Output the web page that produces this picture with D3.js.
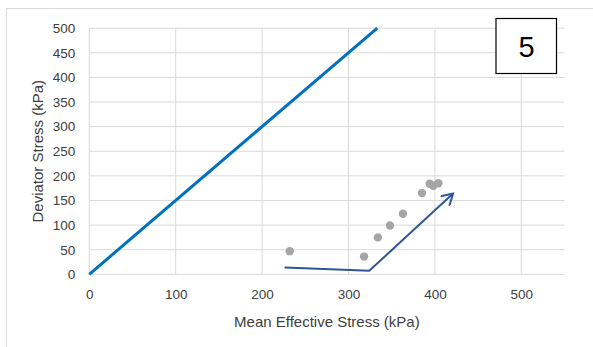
<!DOCTYPE html>
<html><head><meta charset="utf-8">
<script src="https://cdn.jsdelivr.net/npm/d3@7"></script>
<style>body{margin:0;background:#fff;} svg{display:block;}</style>
</head><body>
<svg id="chart" width="593" height="347"></svg>
<script>
// Data
const xTicks = [0, 100, 200, 300, 400, 500];
const yTicks = [0, 50, 100, 150, 200, 250, 300, 350, 400, 450, 500];
const lineP = [0, 333.3];          // CSL: q = 1.5 p'
const lineQ = [0, 500];
const pointsP = [232, 318, 334, 348, 363, 385, 394, 398, 404];
const pointsQ = [47, 36, 75, 99, 123, 165, 184, 180, 185];
const arrowP = [226, 324, 421];
const arrowQ = [14, 7, 164];
const panelLabel = "5";
const xTitle = "Mean Effective Stress (kPa)";
const yTitle = "Deviator Stress (kPa)";

const svg = d3.select("#chart");
const font = "'Liberation Sans', Arial, sans-serif";
const x = d3.scaleLinear().domain([0, 550]).range([89.3, 564.5]);
const y = d3.scaleLinear().domain([0, 500]).range([274.3, 28.2]);

// outer chart border
svg.append("path").attr("d", "M6.5,347 V8.5 H593").attr("fill", "none").attr("stroke", "#D9D9D9").attr("stroke-width", 1);

// gridlines
svg.append("g").selectAll("line").data(yTicks).join("line")
  .attr("x1", x(0)).attr("x2", x(550)).attr("y1", d => y(d)).attr("y2", d => y(d))
  .attr("stroke", "#D9D9D9").attr("stroke-width", 1);
svg.append("g").selectAll("line").data(xTicks).join("line")
  .attr("y1", y(0)).attr("y2", y(500)).attr("x1", d => x(d)).attr("x2", d => x(d))
  .attr("stroke", "#D9D9D9").attr("stroke-width", 1);

// axes labels via d3 axes
const xAxis = svg.append("g").attr("transform", `translate(0,${y(0)})`)
  .call(d3.axisBottom(x).tickValues(xTicks).tickSize(0).tickPadding(15));
const yAxis = svg.append("g").attr("transform", `translate(${x(0)},0)`)
  .call(d3.axisLeft(y).tickValues(yTicks).tickSize(0).tickPadding(14));
[xAxis, yAxis].forEach(a => {
  a.select(".domain").remove();
  a.selectAll("text").attr("fill", "#404040").style("font-family", font).style("font-size", "13.5px");
});

// titles
svg.append("text").attr("x", (x(0) + x(550)) / 2).attr("y", 327).attr("text-anchor", "middle")
  .attr("fill", "#404040").style("font-family", font).style("font-size", "15px").text(xTitle);
svg.append("text").attr("transform", `translate(43,${(y(0) + y(500)) / 2}) rotate(-90)`).attr("text-anchor", "middle")
  .attr("fill", "#404040").style("font-family", font).style("font-size", "15px").text(yTitle);

// CSL line
svg.append("path").datum(lineP.map((p, i) => [p, lineQ[i]]))
  .attr("d", d3.line().x(d => x(d[0])).y(d => y(d[1])))
  .attr("fill", "none").attr("stroke", "#0070C0").attr("stroke-width", 3);

// points
svg.append("g").selectAll("circle").data(pointsP.map((p, i) => [p, pointsQ[i]])).join("circle")
  .attr("cx", d => x(d[0])).attr("cy", d => y(d[1])).attr("r", 4.2).attr("fill", "#A5A5A5");

// arrow
const defs = svg.append("defs");
defs.append("marker").attr("id", "ah").attr("viewBox", "-12 -7 14 14").attr("refX", 0).attr("refY", 0)
  .attr("markerWidth", 14).attr("markerHeight", 14).attr("markerUnits", "userSpaceOnUse").attr("orient", "auto")
  .append("path").attr("d", "M-11,-6.5 L0,0 L-11,6.5").attr("fill", "none").attr("stroke", "#2F5597").attr("stroke-width", 2);
svg.append("path").datum(arrowP.map((p, i) => [p, arrowQ[i]]))
  .attr("d", d3.line().x(d => x(d[0])).y(d => y(d[1])))
  .attr("fill", "none").attr("stroke", "#2F5597").attr("stroke-width", 2).attr("marker-end", "url(#ah)");

// panel label box
svg.append("rect").attr("x", 496).attr("y", 18.5).attr("width", 60.5).attr("height", 55)
  .attr("fill", "#fff").attr("stroke", "#000").attr("stroke-width", 1.2);
svg.append("text").attr("x", 526.5).attr("y", 57).attr("text-anchor", "middle")
  .attr("fill", "#000").style("font-family", font).style("font-size", "29px").text(panelLabel);
</script>
</body></html>
